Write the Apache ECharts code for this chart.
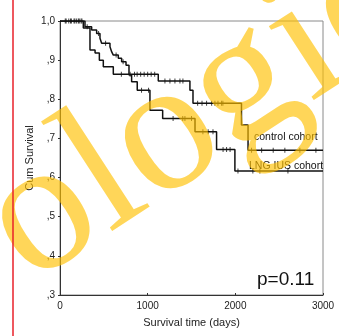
<!DOCTYPE html>
<html><head><meta charset="utf-8">
<script src="https://cdn.jsdelivr.net/npm/echarts@6/dist/echarts.min.js"></script>
<style>html,body{margin:0;padding:0;background:#fff;}#c{width:339px;height:336px;}</style>
</head><body><div id="c"></div>
<script>
var xTicks = [0, 1000, 2000, 3000];
var yTickLabels = {"1.0":"1,0","0.9":",9","0.8":",8","0.7":",7","0.6":",6","0.5":",5","0.4":",4","0.3":",3"};

var controlTimes = [0, 266, 342, 400, 449, 494, 608, 1121, 1482, 1517, 2070, 2145, 3000];
var controlSurv  = [1.0, 0.982, 0.926, 0.918, 0.9, 0.883, 0.864, 0.847, 0.823, 0.79, 0.734, 0.67, 0.67];
var controlCensor = [60, 100, 130, 160, 190, 220, 250, 700, 800, 850, 880, 920, 960, 1000, 1040, 1080,
  1197, 1254, 1311, 1368, 1402, 1570, 1620, 1672, 1730, 1767, 1802, 1843, 1858, 2185, 2300, 2432, 2565, 2736, 2919];

var lngTimes = [0, 285, 361, 418, 456, 475, 570, 590, 608, 665, 703, 753, 787, 817, 881, 1026, 1171, 1540, 1786, 1995, 3000];
var lngSurv  = [1.0, 0.985, 0.977, 0.968, 0.956, 0.943, 0.934, 0.921, 0.913, 0.905, 0.896, 0.887, 0.862, 0.845, 0.823, 0.772, 0.751, 0.717, 0.672, 0.617, 0.617];
var lngCensor = [70, 120, 170, 210, 240, 310, 440, 520, 640, 720, 930, 1010, 1290, 1400, 1425, 1500,
  1630, 1690, 1745, 1860, 1900, 1940, 2030, 2200, 2280, 2600];

var labelControl = "control cohort";
var labelLng = "LNG IUS cohort";
var pText = "p=0.11";
var watermarkText = "ologie";

function pairs(t, s){ return t.map(function(v,i){ return [v, s[i]]; }); }
function lookup(t, s, x){ var v = s[0]; for (var i=0;i<t.length;i++){ if (t[i] <= x) v = s[i]; } return v; }
function censorPts(c, t, s){ return c.map(function(x){ return [x, lookup(t, s, x)]; }); }

var chart = echarts.init(document.getElementById('c'), null, {renderer:'canvas'});
var font = 'Liberation Sans';
chart.setOption({
  animation: false,
  backgroundColor: '#fff',
  grid: {left: 60, right: 16, top: 21, bottom: 41, show: true, borderColor: '#8a8a8a', borderWidth: 1},
  xAxis: {
    type: 'value', min: 0, max: 3000, interval: 1000,
    name: 'Survival time (days)', nameLocation: 'middle', nameGap: 22, nameMoveOverlap: false,
    nameTextStyle: {fontFamily: font, fontSize: 11, color: '#222'},
    axisLine: {lineStyle: {color: '#333', width: 1}},
    axisTick: {inside: true, length: 2, lineStyle: {color: '#333'}},
    axisLabel: {fontFamily: font, fontSize: 10, color: '#222', margin: 6,
      formatter: function(v){ return String(v); }},
    splitLine: {show: false}
  },
  yAxis: {
    type: 'value', min: 0.3, max: 1.0, interval: 0.1,
    name: 'Cum Survival', nameLocation: 'middle', nameGap: 25, nameMoveOverlap: false,
    nameTextStyle: {fontFamily: font, fontSize: 11, color: '#222'},
    axisLine: {show: true, lineStyle: {color: '#333', width: 1}},
    axisTick: {show: true, length: 2, lineStyle: {color: '#333'}},
    axisLabel: {fontFamily: font, fontSize: 10, color: '#222', margin: 5,
      formatter: function(v){ return yTickLabels[v.toFixed(1)] || ''; }},
    splitLine: {show: false}
  },
  series: [
    {type: 'line', step: 'end', data: pairs(controlTimes, controlSurv), symbol: 'none',
     lineStyle: {color: '#111', width: 1.5}, z: 3},
    {type: 'line', step: 'end', data: pairs(lngTimes, lngSurv), symbol: 'none',
     lineStyle: {color: '#111', width: 1.5}, z: 3},
    {type: 'scatter', data: censorPts(controlCensor, controlTimes, controlSurv), symbol: 'rect',
     symbolSize: [1, 5], itemStyle: {color: '#111'}, z: 4},
    {type: 'scatter', data: censorPts(lngCensor, lngTimes, lngSurv), symbol: 'rect',
     symbolSize: [1, 5], itemStyle: {color: '#111'}, z: 4}
  ],
  graphic: [
    {type: 'text', left: 254, top: 132, style: {text: labelControl, font: '10.5px "Liberation Sans"', fill: '#111'}, z: 10},
    {type: 'text', left: 249, top: 161, style: {text: labelLng, font: '10.5px "Liberation Sans"', fill: '#111'}, z: 10},
    {type: 'text', left: 257, top: 270, style: {text: pText, font: '19px "Liberation Sans"', fill: '#111'}, z: 10},
    {type: 'text', x: -48, y: 164, rotation: 0.576, style: {text: watermarkText, font: '188px "Liberation Serif"', fill: '#ffc000', opacity: 0.65, textBaseline: 'alphabetic'}, z: 30},
    {type: 'line', shape: {x1: 13, y1: 0, x2: 13, y2: 336}, style: {stroke: '#e8202a', lineWidth: 1.5}, z: 40}
  ]
});
</script></body></html>
